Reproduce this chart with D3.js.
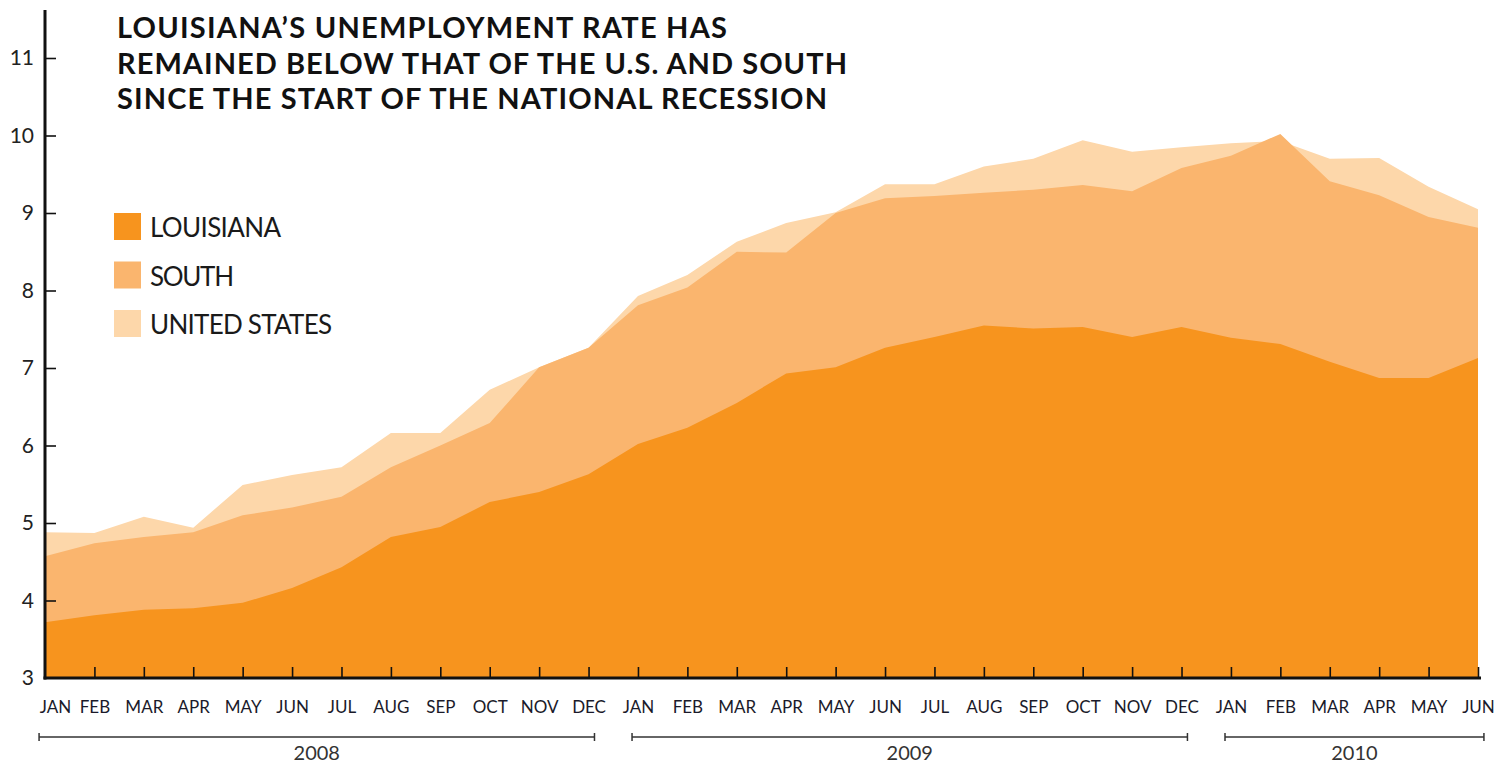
<!DOCTYPE html>
<html>
<head>
<meta charset="utf-8">
<script src="https://cdn.jsdelivr.net/npm/d3@7"></script>
<style>
  body { margin: 0; background: #fff; }
  text { font-family: Lato, 'Open Sans', sans-serif; }
</style>
</head>
<body>
<svg id="chart" width="1501" height="765"></svg>
<script>
// months Jan 2008 .. Jun 2010
var monthLabels = ['JAN','FEB','MAR','APR','MAY','JUN','JUL','AUG','SEP','OCT','NOV','DEC',
                   'JAN','FEB','MAR','APR','MAY','JUN','JUL','AUG','SEP','OCT','NOV','DEC',
                   'JAN','FEB','MAR','APR','MAY','JUN'];

// unemployment rate, %
var louisiana = [3.72, 3.81, 3.88, 3.90, 3.97, 4.16, 4.43, 4.82, 4.95, 5.27, 5.40, 5.63,
                 6.02, 6.23, 6.55, 6.93, 7.01, 7.26, 7.40, 7.55, 7.51, 7.53, 7.40, 7.53,
                 7.39, 7.31, 7.08, 6.87, 6.87, 7.13];
var south     = [4.57, 4.74, 4.82, 4.88, 5.10, 5.20, 5.34, 5.72, 6.00, 6.29, 7.01, 7.26,
                 7.81, 8.04, 8.50, 8.49, 9.00, 9.19, 9.22, 9.26, 9.30, 9.36, 9.28, 9.58,
                 9.74, 10.02, 9.41, 9.23, 8.95, 8.81];
var unitedStates = [4.88, 4.87, 5.08, 4.94, 5.49, 5.62, 5.72, 6.16, 6.16, 6.72, 7.01, 7.26,
                    7.93, 8.20, 8.63, 8.87, 9.01, 9.37, 9.37, 9.60, 9.70, 9.94, 9.79, 9.85,
                    9.90, 9.93, 9.70, 9.71, 9.34, 9.05];

var yTicks = [3, 4, 5, 6, 7, 8, 9, 10, 11];

// year brackets: label, first month index, last month index
var yearNames = ['2008', '2009', '2010'];
var yearFirst = [0, 12, 24];
var yearLast  = [11, 23, 29];

var titleLines = ['LOUISIANA\u2019S UNEMPLOYMENT RATE HAS',
                  'REMAINED BELOW THAT OF THE U.S. AND SOUTH',
                  'SINCE THE START OF THE NATIONAL RECESSION'];

var legendKeys = ['LOUISIANA', 'SOUTH', 'UNITED STATES'];
var colors = ['#f7941e', '#fab56e', '#fdd7aa'];

var svg = d3.select('#chart');

var x = d3.scalePoint()
  .domain(d3.range(monthLabels.length))
  .range([45, 1478]);

var y = d3.scaleLinear()
  .domain([3, 11])
  .range([678, 58]);

var area = d3.area()
  .x(function(d, i) { return x(i); })
  .y0(y(3))
  .y1(function(d) { return y(d); });

// back to front: US, South, Louisiana
var series = [unitedStates, south, louisiana];
var seriesColors = [colors[2], colors[1], colors[0]];

svg.append('g')
  .selectAll('path')
  .data(series)
  .join('path')
  .attr('d', area)
  .attr('fill', function(d, i) { return seriesColors[i]; });

// y axis
var yAxis = svg.append('g')
  .attr('transform', 'translate(45,0)')
  .call(d3.axisLeft(y)
    .tickValues(yTicks)
    .tickSizeInner(-11)
    .tickSizeOuter(0)
    .tickPadding(11));

yAxis.select('.domain').remove();
yAxis.selectAll('.tick line').attr('stroke', '#111').attr('stroke-width', 1.6);
yAxis.selectAll('.tick text')
  .attr('font-size', 21)
  .attr('fill', '#222')
  .style('font-family', 'Lato, sans-serif');
yAxis.selectAll('.tick').filter(function(d) { return d === 3; }).select('line').remove();

svg.append('line')
  .attr('x1', 45).attr('x2', 45)
  .attr('y1', y(11.62)).attr('y2', y(3) + 1.5)
  .attr('stroke', '#111')
  .attr('stroke-width', 3);

// x axis
var xAxis = svg.append('g')
  .attr('transform', 'translate(0,' + y(3) + ')')
  .call(d3.axisBottom(x)
    .tickFormat(function(i) { return monthLabels[i]; })
    .tickSizeInner(-11)
    .tickSizeOuter(0)
    .tickPadding(23));

xAxis.select('.domain').remove();
xAxis.selectAll('.tick line').attr('stroke', '#111').attr('stroke-width', 1.6);
xAxis.selectAll('.tick')
  .filter(function(d) { return d === 0; })
  .select('line').remove();
xAxis.selectAll('.tick text')
  .attr('font-size', 17)
  .attr('fill', '#1a1a2a')
  .style('font-family', 'Lato, sans-serif');
// first label sits right of the axis
xAxis.selectAll('.tick')
  .filter(function(d) { return d === 0; })
  .select('text').attr('dx', 10);

svg.append('line')
  .attr('x1', 43.5).attr('x2', 1481)
  .attr('y1', y(3)).attr('y2', y(3))
  .attr('stroke', '#111')
  .attr('stroke-width', 3);

// year brackets
var step = x.step();
var years = svg.append('g')
  .selectAll('g')
  .data(yearNames)
  .join('g');

years.append('line')
  .attr('x1', function(d, i) { return x(yearFirst[i]) - step * 0.12; })
  .attr('x2', function(d, i) { return x(yearLast[i]) + step * 0.12; })
  .attr('y1', 737).attr('y2', 737)
  .attr('stroke', '#333')
  .attr('stroke-width', 1.5);

years.append('line')
  .attr('x1', function(d, i) { return x(yearFirst[i]) - step * 0.12; })
  .attr('x2', function(d, i) { return x(yearFirst[i]) - step * 0.12; })
  .attr('y1', 733).attr('y2', 741)
  .attr('stroke', '#333')
  .attr('stroke-width', 1.5);

years.append('line')
  .attr('x1', function(d, i) { return x(yearLast[i]) + step * 0.12; })
  .attr('x2', function(d, i) { return x(yearLast[i]) + step * 0.12; })
  .attr('y1', 733).attr('y2', 741)
  .attr('stroke', '#333')
  .attr('stroke-width', 1.5);

years.append('text')
  .attr('x', function(d, i) { return (x(yearFirst[i]) + x(yearLast[i])) / 2; })
  .attr('y', 760)
  .attr('text-anchor', 'middle')
  .attr('font-size', 20)
  .attr('fill', '#333')
  .text(function(d) { return d; });

// title
var titleWidths = [610, 730, 710];
svg.append('g')
  .selectAll('text')
  .data(titleLines)
  .join('text')
  .attr('x', 117)
  .attr('y', function(d, i) { return 38 + i * 35.5; })
  .attr('font-size', 29)
  .attr('font-weight', 'bold')
  .attr('fill', '#111')
  .attr('textLength', function(d, i) { return titleWidths[i]; })
  .text(function(d) { return d; });

// legend
var legendWidths = [131, 84, 182];
var legend = svg.append('g')
  .selectAll('g')
  .data(legendKeys)
  .join('g')
  .attr('transform', function(d, i) { return 'translate(114,' + (213 + i * 48.5) + ')'; });

legend.append('rect')
  .attr('width', 27)
  .attr('height', 27)
  .attr('fill', function(d, i) { return colors[i]; });

legend.append('text')
  .attr('x', 36)
  .attr('y', 24)
  .attr('font-size', 26)
  .attr('fill', '#1a1a1a')
  .attr('textLength', function(d, i) { return legendWidths[i]; })
  .text(function(d) { return d; });
</script>
</body>
</html>
